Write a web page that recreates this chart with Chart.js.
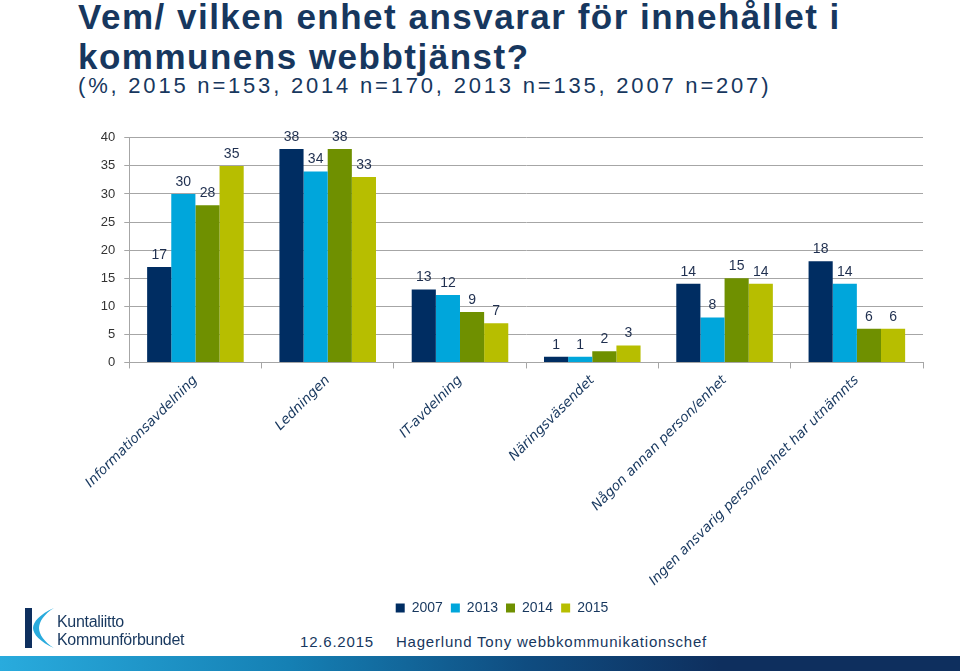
<!DOCTYPE html>
<html>
<head>
<meta charset="utf-8">
<script src="https://cdn.jsdelivr.net/npm/chart.js@4"></script>
<style>
  body { margin: 0; width: 960px; height: 671px; background: #fff; position: relative; overflow: hidden; font-family: "Liberation Sans", Arial, sans-serif; }
  #title { position: absolute; left: 78px; top: -3px; color: #17375E; font-weight: bold; font-size: 35px; line-height: 40px; letter-spacing: 1.5px; }
  #sub { position: absolute; left: 78px; top: 73px; color: #17375E; font-size: 22px; line-height: 25px; letter-spacing: 2.8px; }
  #wrap { position: absolute; left: 81px; top: 121px; width: 844px; height: 504px; }
  #foot { position: absolute; left: 300px; top: 633px; color: #17375E; font-size: 15px; letter-spacing: 0.8px; }
  #foot span { margin-right: 22px; }
  #bar { position: absolute; left: 0; top: 656px; width: 960px; height: 15px; background: linear-gradient(to right, #29ABDD 0%, #1580B4 30%, #0F4C80 55%, #0E2F5E 75%, #0E2F5E 100%); }
  #logo { position: absolute; left: 22px; top: 606px; }
  #logoText { position: absolute; left: 57px; top: 613px; color: #17375E; font-size: 16px; line-height: 18px; letter-spacing: -0.3px; }
</style>
</head>
<body>
<div id="title">Vem/ vilken enhet ansvarar för innehållet i<br>kommunens webbtjänst?</div>
<div id="sub">(%, 2015 n=153, 2014 n=170, 2013 n=135, 2007 n=207)</div>
<div id="wrap"><canvas id="chart"></canvas></div>
<svg id="logo" width="34" height="44" viewBox="0 0 34 44">
  <rect x="3" y="2" width="7" height="40" fill="#0E2F5E"/>
  <path d="M32 2 C18 8 11 16 11 22 C11 28 18 36 32 42 C22 36 17 28 17 22 C17 16 22 8 32 2 Z" fill="#29ABDD"/>
</svg>
<div id="logoText">Kuntaliitto<br>Kommunförbundet</div>
<div id="foot"><span>12.6.2015</span>Hagerlund Tony webbkommunikationschef</div>
<div id="bar"></div>
<script>
// Kategorier och värden (%)
const categories = [
    "Informationsavdelning",
    "Ledningen",
    "IT-avdelning",
    "Näringsväsendet",
    "Någon annan person/enhet",
    "Ingen ansvarig person/enhet har utnämnts"
];
const years = ["2007", "2013", "2014", "2015"];
const v2007 = [17, 38, 13, 1, 14, 18];
const v2013 = [30, 34, 12, 1, 8, 14];
const v2014 = [28, 38, 9, 2, 15, 6];
const v2015 = [35, 33, 7, 3, 14, 6];
const yTicks = [0, 5, 10, 15, 20, 25, 30, 35, 40];
const colors = ["#002D62", "#00A6DB", "#6F9000", "#B7BE00"];

// Skriver värdet ovanför varje stapel
const valueLabels = {
    id: "valueLabels",
    afterDatasetsDraw(chart) {
        const ctx = chart.ctx;
        ctx.save();
        ctx.font = "14px 'Liberation Sans', Arial, sans-serif";
        ctx.fillStyle = "#1F2F4F";
        ctx.textAlign = "center";
        ctx.textBaseline = "bottom";
        chart.data.datasets.forEach(function(ds, i) {
            chart.getDatasetMeta(i).data.forEach(function(bar, j) {
                ctx.fillText(ds.data[j], bar.x, bar.y - 5);
            });
        });
        ctx.restore();
    }
};

const ctx = document.getElementById("chart").getContext("2d");
new Chart(ctx, {
    type: "bar",
    data: {
        labels: categories,
        datasets: [v2007, v2013, v2014, v2015].map(function(d, i) {
            return {
                label: years[i],
                data: d,
                backgroundColor: colors[i],
                borderWidth: 0,
                barPercentage: 1,
                categoryPercentage: 0.73
            };
        })
    },
    options: {
        responsive: true,
        maintainAspectRatio: false,
        animation: false,
        layout: { padding: { top: 4, right: 2 } },
        plugins: {
            tooltip: { enabled: false },
            legend: {
                position: "bottom",
                labels: {
                    boxWidth: 9,
                    boxHeight: 9,
                    padding: 8,
                    color: "#17375E",
                    font: { family: "'Liberation Sans', Arial, sans-serif", size: 14 }
                }
            }
        },
        scales: {
            x: {
                grid: { offset: true, drawOnChartArea: false, color: "#A6A6A6", tickLength: 6 },
                border: { color: "#A6A6A6" },
                ticks: {
                    minRotation: 45,
                    maxRotation: 45,
                    color: "#17375E",
                    padding: 4,
                    font: { family: "'DejaVu Sans', Verdana, sans-serif", size: 13.5, style: "italic" }
                }
            },
            y: {
                min: 0,
                max: 40,
                afterBuildTicks(axis) {
                    axis.ticks = yTicks.map(function(v) { return { value: v }; });
                },
                grid: { color: "#A6A6A6", tickLength: 5 },
                border: { color: "#A6A6A6" },
                ticks: {
                    color: "#333333",
                    padding: 9,
                    font: { family: "'Liberation Sans', Arial, sans-serif", size: 13 }
                }
            }
        }
    },
    plugins: [valueLabels]
});
</script>
</body>
</html>
